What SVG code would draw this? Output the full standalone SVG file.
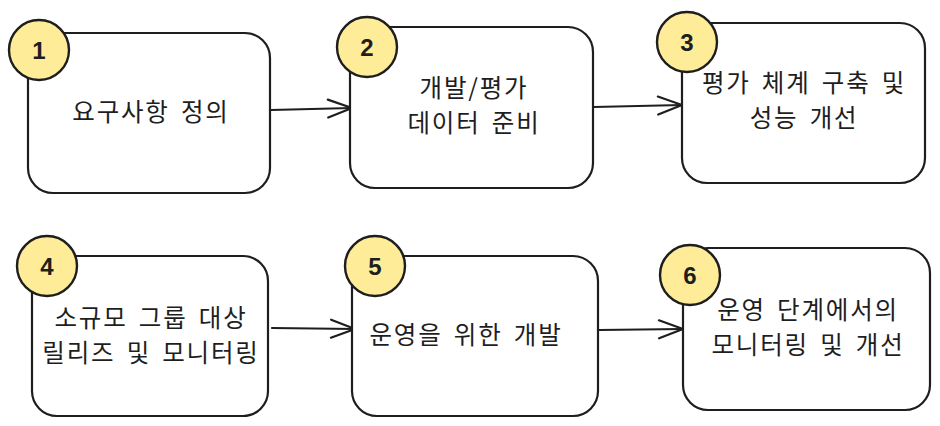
<svg xmlns="http://www.w3.org/2000/svg" width="940" height="426" viewBox="0 0 940 426">
<defs>
<style>
.box{fill:#ffffff;stroke:#1e1e1e;stroke-width:2.2;stroke-linejoin:round}
.badge{fill:#ffec99;stroke:#1e1e1e;stroke-width:2.4}
.num{font-family:"Liberation Sans","Noto Sans",sans-serif;font-size:24px;font-weight:bold;fill:#1e1e1e;text-anchor:middle}
.lbl{font-family:"Noto Sans CJK KR","Noto Sans",sans-serif;font-size:24.5px;fill:#1e1e1e;text-anchor:middle;letter-spacing:1.8px;word-spacing:4px}
.conn{fill:none;stroke:#1e1e1e;stroke-width:2.2;stroke-linecap:round}
</style>
<marker id="arrow" markerUnits="userSpaceOnUse" markerWidth="30" markerHeight="24" viewBox="-26 -12 30 24" refX="0" refY="0" orient="auto">
<path d="M-24,-9 L0,0 L-24,9" fill="none" stroke="#1e1e1e" stroke-width="2.2" stroke-linecap="round" stroke-linejoin="round"/>
</marker>
</defs>
<rect width="940" height="426" fill="#ffffff"/>
<g id="connectors">
<path class="conn" d="M271,110 L352,108" marker-end="url(#arrow)"/>
<path class="conn" d="M594,107 L682,105" marker-end="url(#arrow)"/>
<path class="conn" d="M272,328 L355,329" marker-end="url(#arrow)"/>
<path class="conn" d="M599,330 L683,329" marker-end="url(#arrow)"/>
</g>
<g id="node1">
<rect class="box" x="28" y="33" width="242" height="160" rx="25"/>
<circle class="badge" cx="39" cy="50" r="30"/>
<text class="num" x="39" y="59">1</text>
<text class="lbl" x="151" y="121">요구사항 정의</text>
</g>
<g id="node2">
<rect class="box" x="350" y="27" width="243" height="161" rx="25"/>
<circle class="badge" cx="367" cy="47" r="30"/>
<text class="num" x="367" y="56">2</text>
<text class="lbl" x="474" y="97">개발/평가</text>
<text class="lbl" x="474" y="132">데이터 준비</text>
</g>
<g id="node3">
<rect class="box" x="682" y="23" width="243" height="160" rx="25"/>
<circle class="badge" cx="687" cy="42" r="30"/>
<text class="num" x="687" y="51">3</text>
<text class="lbl" x="804" y="92">평가 체계 구축 및</text>
<text class="lbl" x="804" y="127">성능 개선</text>
</g>
<g id="node4">
<rect class="box" x="32" y="256" width="236" height="160" rx="25"/>
<circle class="badge" cx="47" cy="266" r="30"/>
<text class="num" x="47" y="275">4</text>
<text class="lbl" x="151" y="327">소규모 그룹 대상</text>
<text class="lbl" x="151" y="362">릴리즈 및 모니터링</text>
</g>
<g id="node5">
<rect class="box" x="352" y="256" width="246" height="160" rx="25"/>
<circle class="badge" cx="375" cy="266" r="30"/>
<text class="num" x="375" y="275">5</text>
<text class="lbl" x="466" y="344">운영을 위한 개발</text>
</g>
<g id="node6">
<rect class="box" x="683" y="248" width="247" height="162" rx="25"/>
<circle class="badge" cx="690" cy="275" r="30"/>
<text class="num" x="690" y="284">6</text>
<text class="lbl" x="808" y="319">운영 단계에서의</text>
<text class="lbl" x="808" y="354">모니터링 및 개선</text>
</g>
</svg>
